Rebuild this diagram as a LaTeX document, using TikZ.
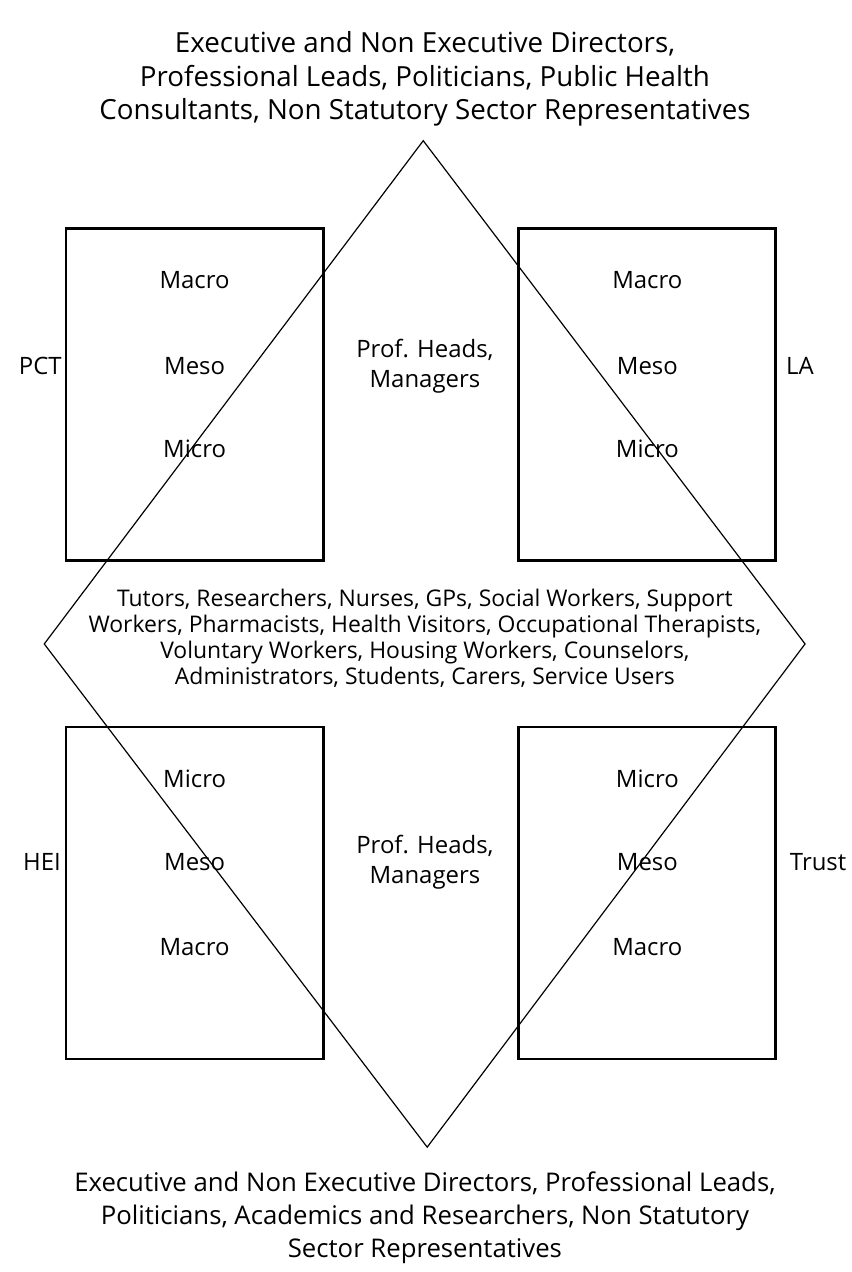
\documentclass[tikz,border=0pt]{standalone}
\usepackage{fontspec}
\setmainfont{Open Sans}
\usetikzlibrary{positioning}

\begin{document}
\begin{tikzpicture}[transform shape,scale=1,
	box/.style={draw,line width=1.4pt,minimum width=4.53cm,minimum height=5.85cm,inner sep=0pt},
	lvl/.style={font=\fontsize{12}{15}\selectfont},
	grp/.style={align=center,font=\fontsize{13.9}{16.6}\selectfont},
	staff/.style={align=center,font=\fontsize{11.5}{13}\selectfont}]
	\useasboundingbox (0,0) rectangle (15,22.42);
	\draw[line width=0.6pt] (7.46,19.94)--(14.19,11.07)--(7.53,2.20)--(0.78,11.07)--cycle;
	\node[box] (pct) at (3.43,15.47) {};
	\node[box] (la) at (11.41,15.47) {};
	\node[box] (hei) at (3.43,6.68) {};
	\node[box] (trust) at (11.41,6.68) {};
	\node[lvl] (pctmacro) at (3.43,17.49) {Macro};
	\node[lvl] (pctmeso) at (3.43,15.97) {Meso};
	\node[lvl] (pctmicro) at (3.43,14.51) {Micro};
	\node[lvl] (lamacro) at (11.41,17.49) {Macro};
	\node[lvl] (lameso) at (11.41,15.97) {Meso};
	\node[lvl] (lamicro) at (11.41,14.51) {Micro};
	\node[lvl] (heimicro) at (3.43,8.69) {Micro};
	\node[lvl] (heimeso) at (3.43,7.23) {Meso};
	\node[lvl] (heimacro) at (3.43,5.73) {Macro};
	\node[lvl] (trustmicro) at (11.41,8.69) {Micro};
	\node[lvl] (trustmeso) at (11.41,7.23) {Meso};
	\node[lvl] (trustmacro) at (11.41,5.73) {Macro};
	\node[lvl] (pctlabel) at (0.71,15.97) {PCT};
	\node[lvl] (lalabel) at (14.10,15.97) {LA};
	\node[lvl] (heilabel) at (0.74,7.23) {HEI};
	\node[lvl] (trustlabel) at (14.42,7.23) {Trust};
	\node[lvl,align=center] (headstop) at (7.49,15.97) {Prof. Heads,\\Managers};
	\node[lvl,align=center] (headsbot) at (7.49,7.23) {Prof. Heads,\\Managers};
	\node[staff] (staff) at (7.49,11.17) {Tutors, Researchers, Nurses, GPs, Social Workers, Support\\Workers, Pharmacists, Health Visitors, Occupational Therapists,\\Voluntary Workers, Housing Workers, Counselors,\\Administrators, Students, Carers, Service Users};
	\node[grp] (topgrp) at (7.49,21.03) {Executive and Non Executive Directors,\\Professional Leads, Politicians, Public Health\\Consultants, Non Statutory Sector Representatives};
	\node[grp,font=\fontsize{12.9}{16.5}\selectfont] (botgrp) at (7.49,0.95) {Executive and Non Executive Directors, Professional Leads,\\Politicians, Academics and Researchers, Non Statutory\\Sector Representatives};
\end{tikzpicture}
\end{document}
